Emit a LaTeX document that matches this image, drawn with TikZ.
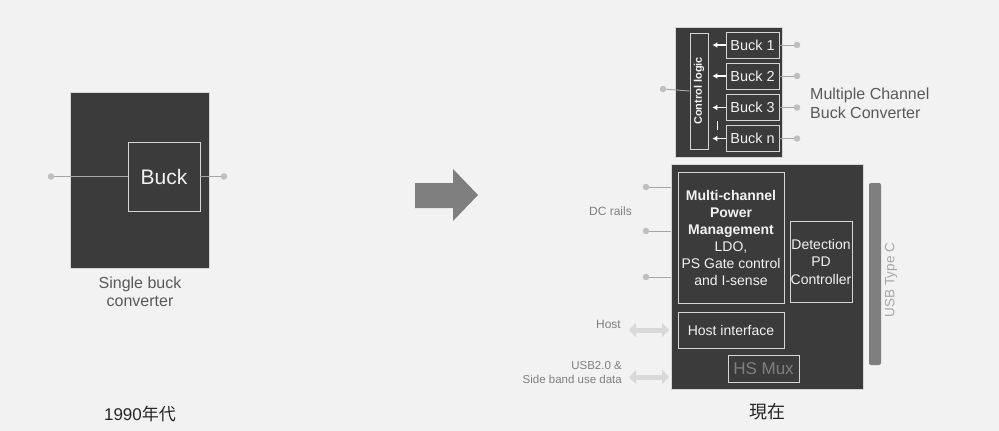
\documentclass[tikz,border=0pt]{standalone}
\usepackage{fontspec}
\setmainfont{Liberation Sans}
\newfontfamily\cjk{Noto Sans CJK JP}
\usepackage{xcolor}
\usepackage{tikz}
\usetikzlibrary{arrows.meta, positioning}

\definecolor{bgcol}{HTML}{F2F2F2}
\definecolor{boxcol}{HTML}{3B3B3B}
\definecolor{edgecol}{HTML}{D6D6D6}
\definecolor{wirecol}{HTML}{A6A6A6}
\definecolor{dotcol}{HTML}{BFBFBF}
\definecolor{labelcol}{HTML}{595959}
\definecolor{softcol}{HTML}{7F7F7F}
\definecolor{buscol}{HTML}{D9D9D9}

\newcommand{\fsz}[2]{\fontsize{#1}{#2}\selectfont}

\tikzset{
	chip/.style={draw=edgecol, fill=boxcol, line width=0.6pt, inner sep=0pt},
	blk/.style={draw=edgecol, line width=0.9pt, inner sep=0pt, text=bgcol, align=center},
	circ/.style={circle, fill=dotcol, inner sep=0pt, minimum size=6.5pt},
	wire/.style={draw=wirecol, line width=0.9pt},
	ctl/.style={draw=white, line width=1.1pt, -{Latex[length=5pt,width=6pt]}, shorten >=4pt},
	bus/.style={draw=buscol, line width=5pt, {Triangle[length=7pt,width=14pt]}-{Triangle[length=7pt,width=14pt]}},
	lbl/.style={text=labelcol, align=center, inner sep=0pt},
	soft/.style={text=softcol, inner sep=0pt},
}

\begin{document}
\begin{tikzpicture}[x=1pt, y=-1pt]
	% Background and frame:
	\fill[bgcol] (0,0) rectangle (999,431);
	\useasboundingbox (0,0) rectangle (999,431);

	% Single buck, left:
	\node[chip, minimum width=139, minimum height=176](single) at (139.5, 180){};
	\node[blk, minimum width=72, minimum height=69, font=\fsz{21}{24}](buck) at (164, 176.5){Buck};
	\node[circ](inA) at (51, 176.5){};
	\node[circ](outA) at (224, 176.5){};
	\draw[wire] (inA) -- (buck.west);
	\draw[wire] (buck.east) -- (outA);
	\node[lbl, font=\fsz{16}{18.5}](singlelbl) at (140, 292){Single buck\\converter};
	\node[inner sep=0pt, text=black!85, font=\fsz{17}{20}](then) at (140, 414){1990{\cjk 年代}};

	% Arrow:
	\fill[softcol] (415,183) -- (453,183) -- (453,169) -- (478,195) -- (453,221) -- (453,208) -- (415,208) -- cycle;

	% Multiple channel buck, top right:
	\node[chip, minimum width=107, minimum height=130](multi) at (728.5, 92){};
	\node[blk, minimum width=18, minimum height=116](ctrl) at (699, 91){};
	\node[text=bgcol, rotate=90, inner sep=0pt, font=\fsz{11}{12}\bfseries] at (ctrl){Control logic};
	\foreach \n/\y in {1/45, 2/76, 3/107.5, n/138.5}{
		\node[blk, minimum width=53, minimum height=26, font=\fsz{14.5}{16}](b\n) at (752.5, \y){Buck \n};
		\node[circ](o\n) at (797, \y){};
		\draw[wire] (b\n.east) -- (o\n);
		\draw[ctl] (b\n.west) -- (b\n.west -| ctrl.east);
	}
	\coordinate (gapA) at (717, 121);
	\coordinate (gapB) at (717, 130);
	\draw[draw=white, line width=0.8pt] (gapA) -- (gapB);
	\node[circ](inB) at (663, 89){};
	\draw[wire] (inB) -- (ctrl.west);
	\node[lbl, anchor=west, align=left, font=\fsz{16}{19}](multilbl) at (810, 103.5){Multiple Channel\\Buck Converter};

	% Type C controller, bottom right:
	\node[chip, minimum width=192, minimum height=225](soc) at (767, 276.5){};
	\node[blk, minimum width=106, minimum height=131, font=\fsz{14}{17}](pm) at (731, 237.5){\textbf{Multi-channel}\\\textbf{Power}\\\textbf{Management}\\LDO,\\PS Gate control\\and I-sense};
	\node[blk, minimum width=62, minimum height=81, font=\fsz{14}{17.5}](det) at (821, 261.5){Detection\\PD\\Controller};
	\node[blk, minimum width=106, minimum height=36, font=\fsz{14}{16}](host) at (731, 330){Host interface};
	\node[blk, minimum width=71, minimum height=27, text=softcol, font=\fsz{17}{19}](mux) at (763.5, 368.5){HS Mux};
	\node[fill=softcol, rounded corners=2pt, minimum width=12, minimum height=182, inner sep=0pt](typec) at (875, 274){};
	\node[text=wirecol, rotate=90, inner sep=0pt, font=\fsz{13.5}{15}](typeclbl) at (891, 280){USB Type C};
	\foreach \i/\y in {1/187, 2/231, 3/277}{
		\node[circ](dc\i) at (646, \y){};
		\draw[wire] (dc\i) -- (dc\i -| soc.west);
	}
	\node[soft, font=\fsz{12}{14}](dclbl) at (610.5, 211){DC rails};
	\node[soft, anchor=east, font=\fsz{12}{14}](hostlbl) at (621, 324){Host};
	\coordinate (hostA) at (629, 330);
	\coordinate (hostB) at (669, 330);
	\draw[bus] (hostA) -- (hostB);
	\node[soft, anchor=east, align=right, font=\fsz{11.5}{14}](usblbl) at (622, 373){USB2.0 \&\\Side band use data};
	\coordinate (usbA) at (629, 377);
	\coordinate (usbB) at (669, 377);
	\draw[bus] (usbA) -- (usbB);
	\node[inner sep=0pt, text=black!85, font=\fsz{18}{20}\cjk](now) at (767, 412){現在};
\end{tikzpicture}
\end{document}
